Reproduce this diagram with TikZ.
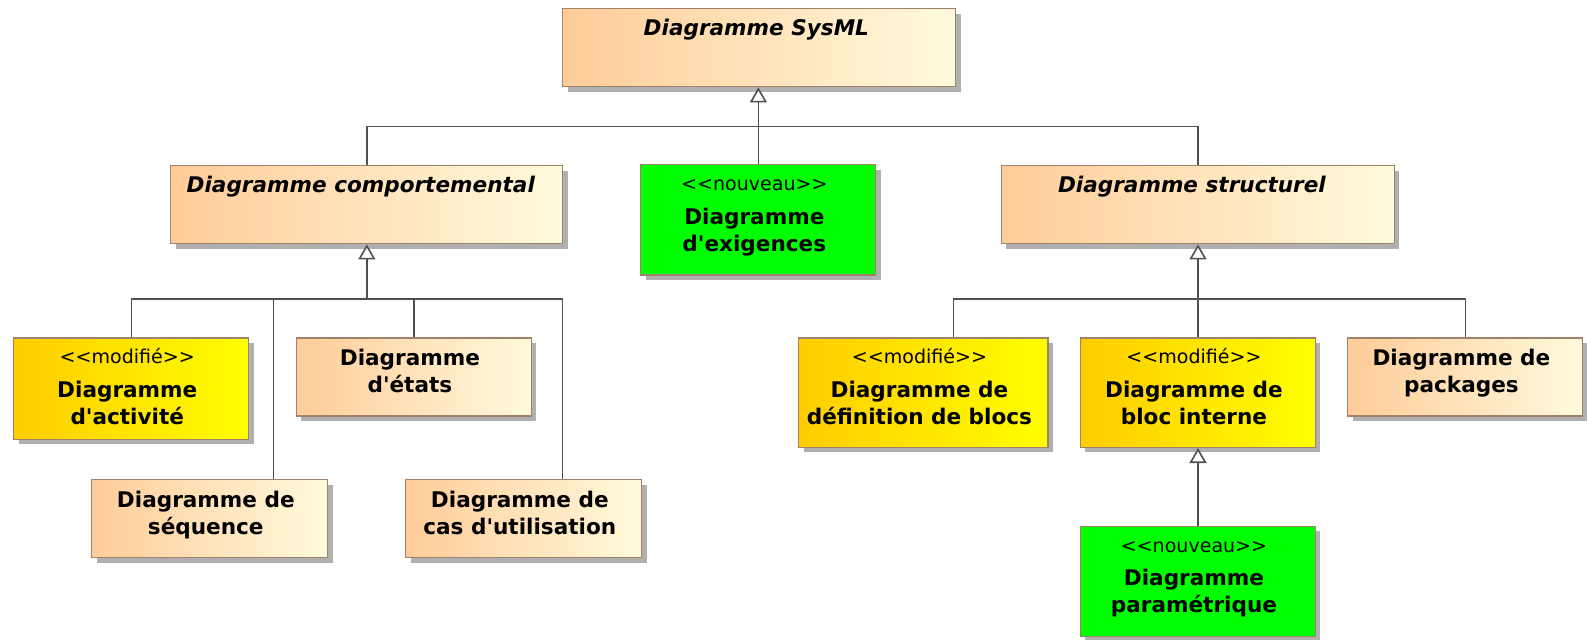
\documentclass[tikz,border=0pt]{standalone}
\usepackage{fontspec}
\setmainfont{DejaVu Sans}[Ligatures=TeXOff,ItalicFont={DejaVu Sans Oblique},BoldItalicFont={DejaVu Sans Bold Oblique}]
\usetikzlibrary{arrows.meta,shadows,calc}
\definecolor{bord}{HTML}{A0826A}
\definecolor{orL}{HTML}{FFCC99}
\definecolor{orR}{HTML}{FFFADC}
\definecolor{yeL}{HTML}{FFCC00}
\definecolor{yeR}{HTML}{FFFF00}
\definecolor{grn}{HTML}{00FF00}
\definecolor{lin}{HTML}{505050}
\definecolor{shad}{HTML}{B0B0B0}
\newcommand\topstrutx{\rule{0pt}{20pt}}
\newcommand\stereo[1]{\topstrutx{\fontsize{18.8}{22}\selectfont\mdseries #1}}
\begin{document}
\begin{tikzpicture}[scale=1.01276,transform shape,x=1pt,y=-1pt,
 box/.style={draw=bord, line width=1.3pt, anchor=north west, inner sep=0pt,
   drop shadow={shadow xshift=5pt,shadow yshift=-5pt,fill=shad,opacity=1}},
 orbox/.style={box,left color=orL,right color=orR},
 yebox/.style={box,left color=yeL,right color=yeR},
 grbox/.style={box,fill=grn},
 lbl/.style={anchor=north,inner sep=0pt,align=center,font=\fontsize{21.3}{26.6}\selectfont\bfseries},
 hdr/.style={lbl,font=\fontsize{21.3}{26.6}\selectfont\bfseries\itshape},
 wire/.style={draw=lin,line width=1.6pt},
 gen/.style={wire,-{Triangle[fill=white,length=15pt,width=17pt]}}
]
\path[use as bounding box,fill=white] (0,0) rectangle (1567,631);

% boxes
\node[orbox,minimum width=388pt,minimum height=77pt] (sysml) at (555,8) {};
\node[orbox,minimum width=387pt,minimum height=77pt] (comp) at (168,163) {};
\node[grbox,minimum width=232pt,minimum height=109pt] (exig) at (632,162) {};
\node[orbox,minimum width=388pt,minimum height=77pt] (struc) at (988,163) {};
\node[yebox,minimum width=232pt,minimum height=100pt] (act) at (13,333) {};
\node[orbox,minimum width=232pt,minimum height=77pt] (etats) at (292,333) {};
\node[orbox,minimum width=233pt,minimum height=77pt] (seq) at (90,473) {};
\node[orbox,minimum width=233pt,minimum height=77pt] (cas) at (400,473) {};
\node[yebox,minimum width=246pt,minimum height=108pt] (def) at (788,333) {};
\node[yebox,minimum width=232pt,minimum height=108pt] (bint) at (1066,333) {};
\node[orbox,minimum width=232pt,minimum height=77pt] (pack) at (1330,333) {};
\node[grbox,minimum width=232pt,minimum height=109pt] (param) at (1066,519) {};

% labels
\node[hdr] (tsysml) at ($(sysml.north)+(-3,6.5)$) {\topstrutx Diagramme SysML};
\node[hdr] (tcomp) at ($(comp.north)+(-6,6.5)$) {\topstrutx Diagramme comportemental};
\node[lbl] (texig) at ($(exig.north)+(-4,6)$) {\stereo{<<nouveau>>}\\[6.6pt]Diagramme\\d'exigences};
\node[hdr] (tstruc) at ($(struc.north)+(-6,6.5)$) {\topstrutx Diagramme structurel};
\node[lbl] (tact) at ($(act.north)+(-4,6)$) {\stereo{<<modifié>>}\\[6.6pt]Diagramme\\d'activité};
\node[lbl] (tetats) at ($(etats.north)+(-4,8)$) {\topstrutx Diagramme\\d'états};
\node[lbl] (tseq) at ($(seq.north)+(-4,8)$) {\topstrutx Diagramme de\\séquence};
\node[lbl] (tcas) at ($(cas.north)+(-4,8)$) {\topstrutx Diagramme de\\cas d'utilisation};
\node[lbl] (tdef) at ($(def.north)+(-4,6)$) {\stereo{<<modifié>>}\\[6.6pt]Diagramme de\\définition de blocs};
\node[lbl] (tbint) at ($(bint.north)+(-4,6)$) {\stereo{<<modifié>>}\\[6.6pt]Diagramme de\\bloc interne};
\node[lbl] (tpack) at ($(pack.north)+(-4,8)$) {\topstrutx Diagramme de\\packages};
\node[lbl] (tparam) at ($(param.north)+(-4,6)$) {\stereo{<<nouveau>>}\\[6.6pt]Diagramme\\paramétrique};

% connectors
\coordinate (busA) at (0,125);
\coordinate (busB) at (0,295);
\coordinate (seqin) at ($(seq.north west)+(180,0)$);
\coordinate (casin) at ($(cas.north west)+(155,0)$);
\coordinate (defin) at ($(def.north west)+(153,0)$);

\draw[gen] (exig.north) -- (exig.north |- sysml.south);
\draw[wire] (comp.north) -- (comp.north |- busA) -- (struc.north |- busA) -- (struc.north);

\draw[gen] (comp.south |- busB) -- (comp.south);
\draw[wire] (act.north) -- (act.north |- busB) -- (casin |- busB) -- (casin);
\draw[wire] (seqin) -- (seqin |- busB);
\draw[wire] (etats.north) -- (etats.north |- busB);

\draw[gen] (bint.north) -- (bint.north |- struc.south);
\draw[wire] (defin) -- (defin |- busB) -- (pack.north |- busB) -- (pack.north);

\draw[gen] (param.north) -- (bint.south);
\end{tikzpicture}
\end{document}
